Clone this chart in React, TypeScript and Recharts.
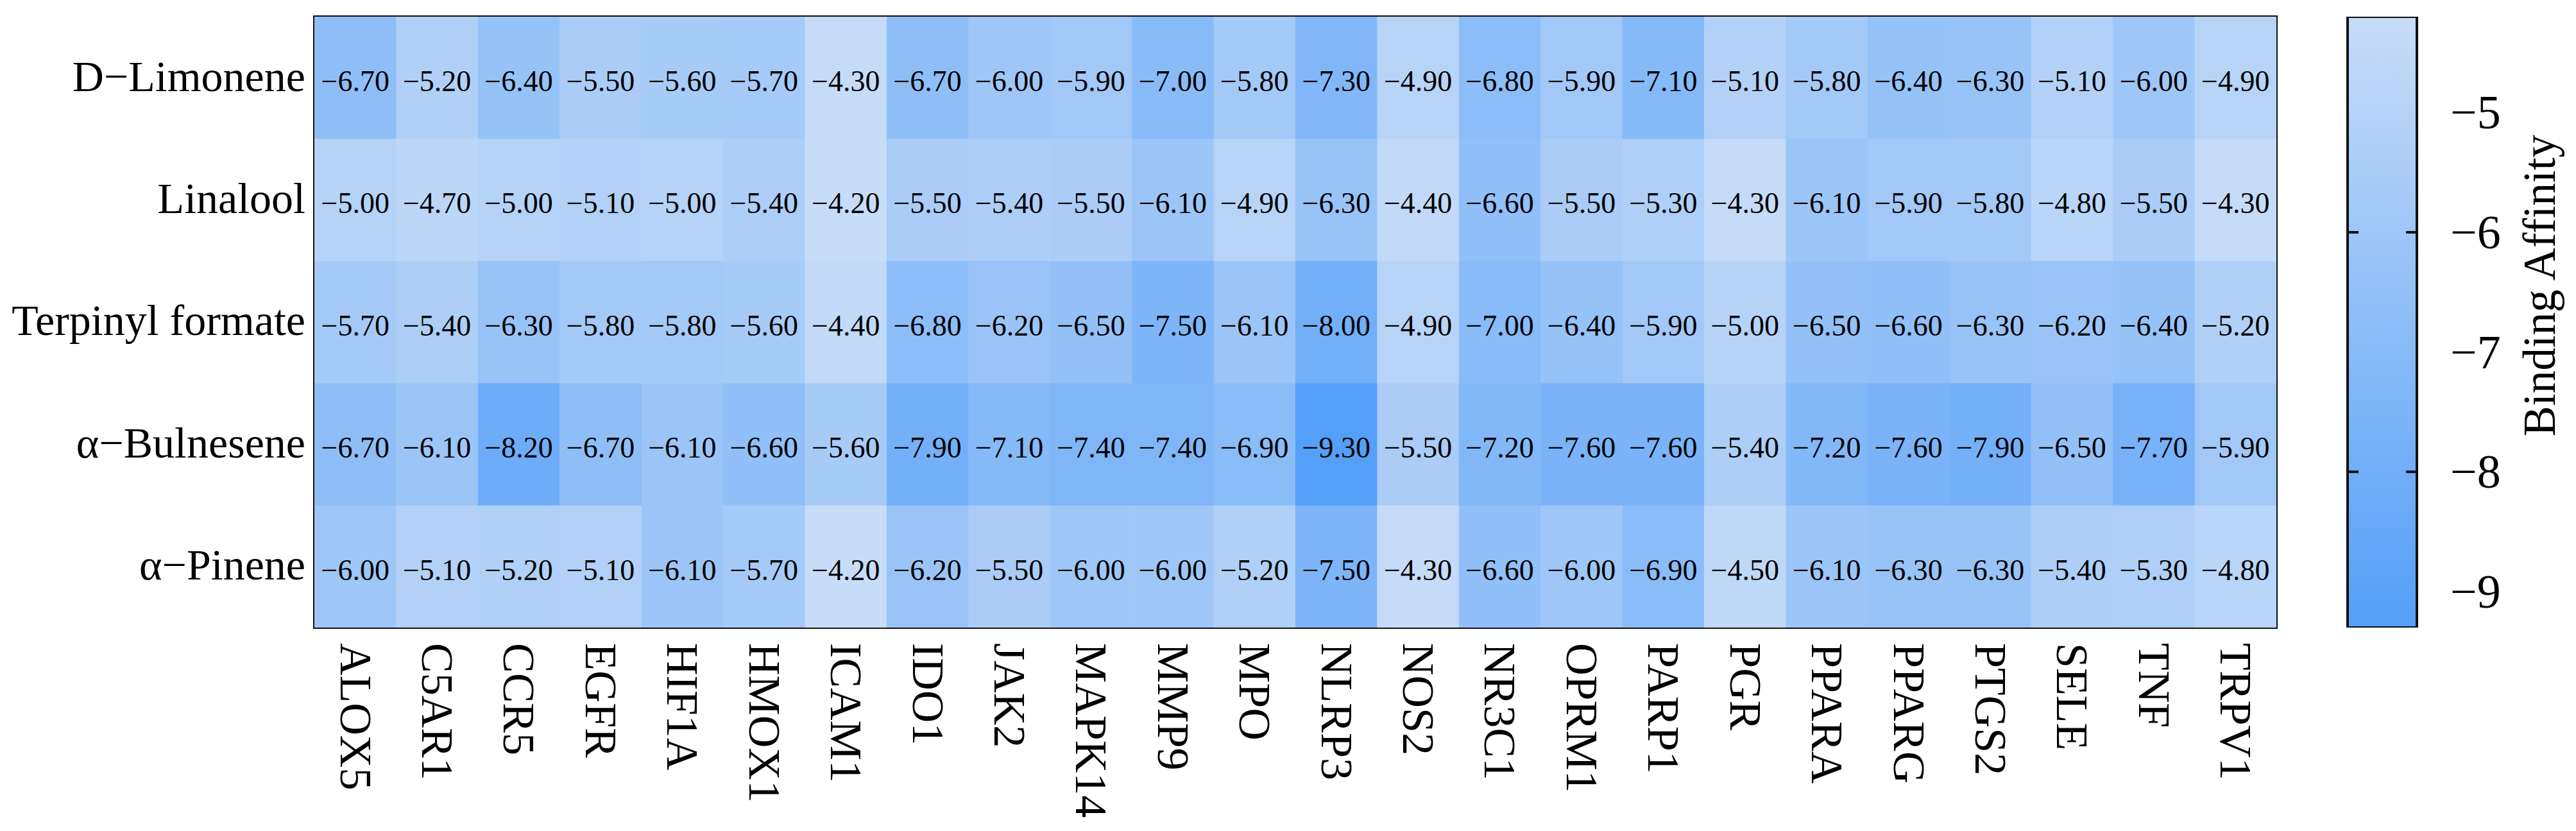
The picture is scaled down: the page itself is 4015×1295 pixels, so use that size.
import React from 'react';
import {
  ScatterChart,
  Scatter,
  XAxis,
  YAxis,
  ReferenceArea,
  BarChart,
  Bar,
  ReferenceLine,
} from 'recharts';

// targets on the x axis
const genes = [
  'ALOX5', 'C5AR1', 'CCR5', 'EGFR', 'HIF1A', 'HMOX1', 'ICAM1', 'IDO1', 'JAK2', 'MAPK14', 'MMP9', 'MPO',
  'NLRP3', 'NOS2', 'NR3C1', 'OPRM1', 'PARP1', 'PGR', 'PPARA', 'PPARG', 'PTGS2', 'SELE', 'TNF', 'TRPV1',
];

// compounds, top to bottom
const compounds = ['D−Limonene', 'Linalool', 'Terpinyl formate', 'α−Bulnesene', 'α−Pinene'];

// binding affinity per compound, same order as genes
const dLimonene = [-6.7, -5.2, -6.4, -5.5, -5.6, -5.7, -4.3, -6.7, -6.0, -5.9, -7.0, -5.8, -7.3, -4.9, -6.8, -5.9, -7.1, -5.1, -5.8, -6.4, -6.3, -5.1, -6.0, -4.9];
const linalool = [-5.0, -4.7, -5.0, -5.1, -5.0, -5.4, -4.2, -5.5, -5.4, -5.5, -6.1, -4.9, -6.3, -4.4, -6.6, -5.5, -5.3, -4.3, -6.1, -5.9, -5.8, -4.8, -5.5, -4.3];
const terpinylFormate = [-5.7, -5.4, -6.3, -5.8, -5.8, -5.6, -4.4, -6.8, -6.2, -6.5, -7.5, -6.1, -8.0, -4.9, -7.0, -6.4, -5.9, -5.0, -6.5, -6.6, -6.3, -6.2, -6.4, -5.2];
const alphaBulnesene = [-6.7, -6.1, -8.2, -6.7, -6.1, -6.6, -5.6, -7.9, -7.1, -7.4, -7.4, -6.9, -9.3, -5.5, -7.2, -7.6, -7.6, -5.4, -7.2, -7.6, -7.9, -6.5, -7.7, -5.9];
const alphaPinene = [-6.0, -5.1, -5.2, -5.1, -6.1, -5.7, -4.2, -6.2, -5.5, -6.0, -6.0, -5.2, -7.5, -4.3, -6.6, -6.0, -6.9, -4.5, -6.1, -6.3, -6.3, -5.4, -5.3, -4.8];

const rows = [dLimonene, linalool, terpinylFormate, alphaBulnesene, alphaPinene];

// colour bar
const colorDomain = [-9.3, -4.2];
const colorTicks = [-9, -8, -7, -6, -5];
const colorMarks = [-8, -6];
const lightColor = [199, 220, 247];
const darkColor = [84, 159, 248];

const FONT = '"Liberation Serif", "Times New Roman", serif';
const W = 4015;
const H = 1295;
const plot = { left: 490, top: 26, right: 3548, bottom: 978 };
const cellW = (plot.right - plot.left) / genes.length;
const cellH = (plot.bottom - plot.top) / compounds.length;

const points = rows.flatMap((vals, r) => vals.map((v, c) => ({ x: c, y: r, value: v })));

function colorFor(v: number) {
  const t = (colorDomain[1] - v) / (colorDomain[1] - colorDomain[0]);
  const ch = lightColor.map((l, i) => Math.round(l + (darkColor[i] - l) * t));
  return `rgb(${ch[0]},${ch[1]},${ch[2]})`;
}

const minus = (v: number, digits: number) => (v < 0 ? '\u2212' : '') + Math.abs(v).toFixed(digits);

const HeatCell = (props: any) => {
  const { cx, cy, payload } = props;
  if (cx == null || cy == null) return null;
  return (
    <g>
      <rect x={cx - cellW / 2} y={cy - cellH / 2} width={cellW + 0.6} height={cellH + 0.6} fill={colorFor(payload.value)} />
      <text x={cx} y={cy} dy="0.45em" textAnchor="middle" fontSize={46} fontFamily={FONT} fill="#000">
        {minus(payload.value, 2)}
      </text>
    </g>
  );
};

const GeneTick = (props: any) => {
  const { x, y, payload } = props;
  const ty = y + 24;
  return (
    <text x={x} y={ty} dy="0.33em" transform={`rotate(90 ${x} ${ty})`} textAnchor="start" fontSize={70} fontFamily={FONT} fill="#000">
      {genes[payload.value]}
    </text>
  );
};

const CompoundTick = (props: any) => {
  const { x, y, payload } = props;
  return (
    <text x={x - 14} y={y} dy="0.3em" textAnchor="end" fontSize={68} fontFamily={FONT} fill="#000">
      {compounds[payload.value]}
    </text>
  );
};

const ColorTick = (props: any) => {
  const { x, y, payload } = props;
  return (
    <text x={x + 52} y={y} dy="0.34em" textAnchor="start" fontSize={74} fontFamily={FONT} fill="#000">
      {minus(payload.value, 0)}
    </text>
  );
};

const cbLeft = 3659;
const cbRight = 3767;
const cbData = [{ name: 'scale', range: colorDomain }];

export default function App() {
  return (
    <div style={{ position: 'absolute', left: 0, top: 0, width: W, height: H, background: '#fff' }}>
      <svg width={0} height={0} style={{ position: 'absolute' }}>
        <defs>
          <linearGradient id="cbGrad" x1="0" y1="0" x2="0" y2="1">
            <stop offset="0%" stopColor={colorFor(colorDomain[1])} />
            <stop offset="100%" stopColor={colorFor(colorDomain[0])} />
          </linearGradient>
        </defs>
      </svg>

      <div style={{ position: 'absolute', left: 0, top: 0 }}>
        <ScatterChart
          width={W}
          height={H}
          margin={{ top: plot.top, right: W - plot.right, bottom: H - plot.bottom - 300, left: 10 }}
        >
          <XAxis
            type="number"
            dataKey="x"
            domain={[-0.5, genes.length - 0.5]}
            ticks={genes.map((_, i) => i)}
            interval={0}
            height={300}
            tickSize={0}
            tickMargin={0}
            axisLine={false}
            tickLine={false}
            tick={<GeneTick />}
            allowDataOverflow
          />
          <YAxis
            type="number"
            dataKey="y"
            domain={[-0.5, compounds.length - 0.5]}
            ticks={compounds.map((_, i) => i)}
            interval={0}
            reversed
            width={plot.left - 10}
            tickSize={0}
            tickMargin={0}
            axisLine={false}
            tickLine={false}
            tick={<CompoundTick />}
            allowDataOverflow
          />
          <Scatter data={points} shape={<HeatCell />} isAnimationActive={false} />
          <ReferenceArea
            x1={-0.5}
            x2={genes.length - 0.5}
            y1={-0.5}
            y2={compounds.length - 0.5}
            fill="none"
            fillOpacity={0}
            stroke="#111"
            strokeWidth={4}
            ifOverflow="visible"
          />
        </ScatterChart>
      </div>

      <div style={{ position: 'absolute', left: 3600, top: 0 }}>
        <BarChart
          width={415}
          height={H}
          data={cbData}
          barCategoryGap={0}
          margin={{ top: 26, right: 415 - (cbRight - 3600) - 380, bottom: H - plot.bottom, left: cbLeft - 3600 }}
        >
          <XAxis dataKey="name" hide />
          <YAxis
            orientation="right"
            type="number"
            domain={colorDomain}
            ticks={colorTicks}
            interval={0}
            width={380}
            tickSize={0}
            tickMargin={0}
            axisLine={false}
            tickLine={false}
            tick={<ColorTick />}
            allowDataOverflow
            label={(p: any) => {
              const vb = p.viewBox || {};
              const tx = 3982 - 3600;
              const ty = 445;
              return (
                <text x={tx} y={ty} transform={`rotate(-90 ${tx} ${ty})`} textAnchor="middle" fontSize={71} fontFamily={FONT} fill="#000">
                  Binding Affinity
                </text>
              );
            }}
          />
          <Bar dataKey="range" fill="url(#cbGrad)" stroke="#111" strokeWidth={4} isAnimationActive={false} />
          {colorMarks.map((m) => (
            <ReferenceLine key={m} y={m} stroke="#111" strokeWidth={4} strokeDasharray="17 74 17" />
          ))}
        </BarChart>
      </div>
    </div>
  );
}
